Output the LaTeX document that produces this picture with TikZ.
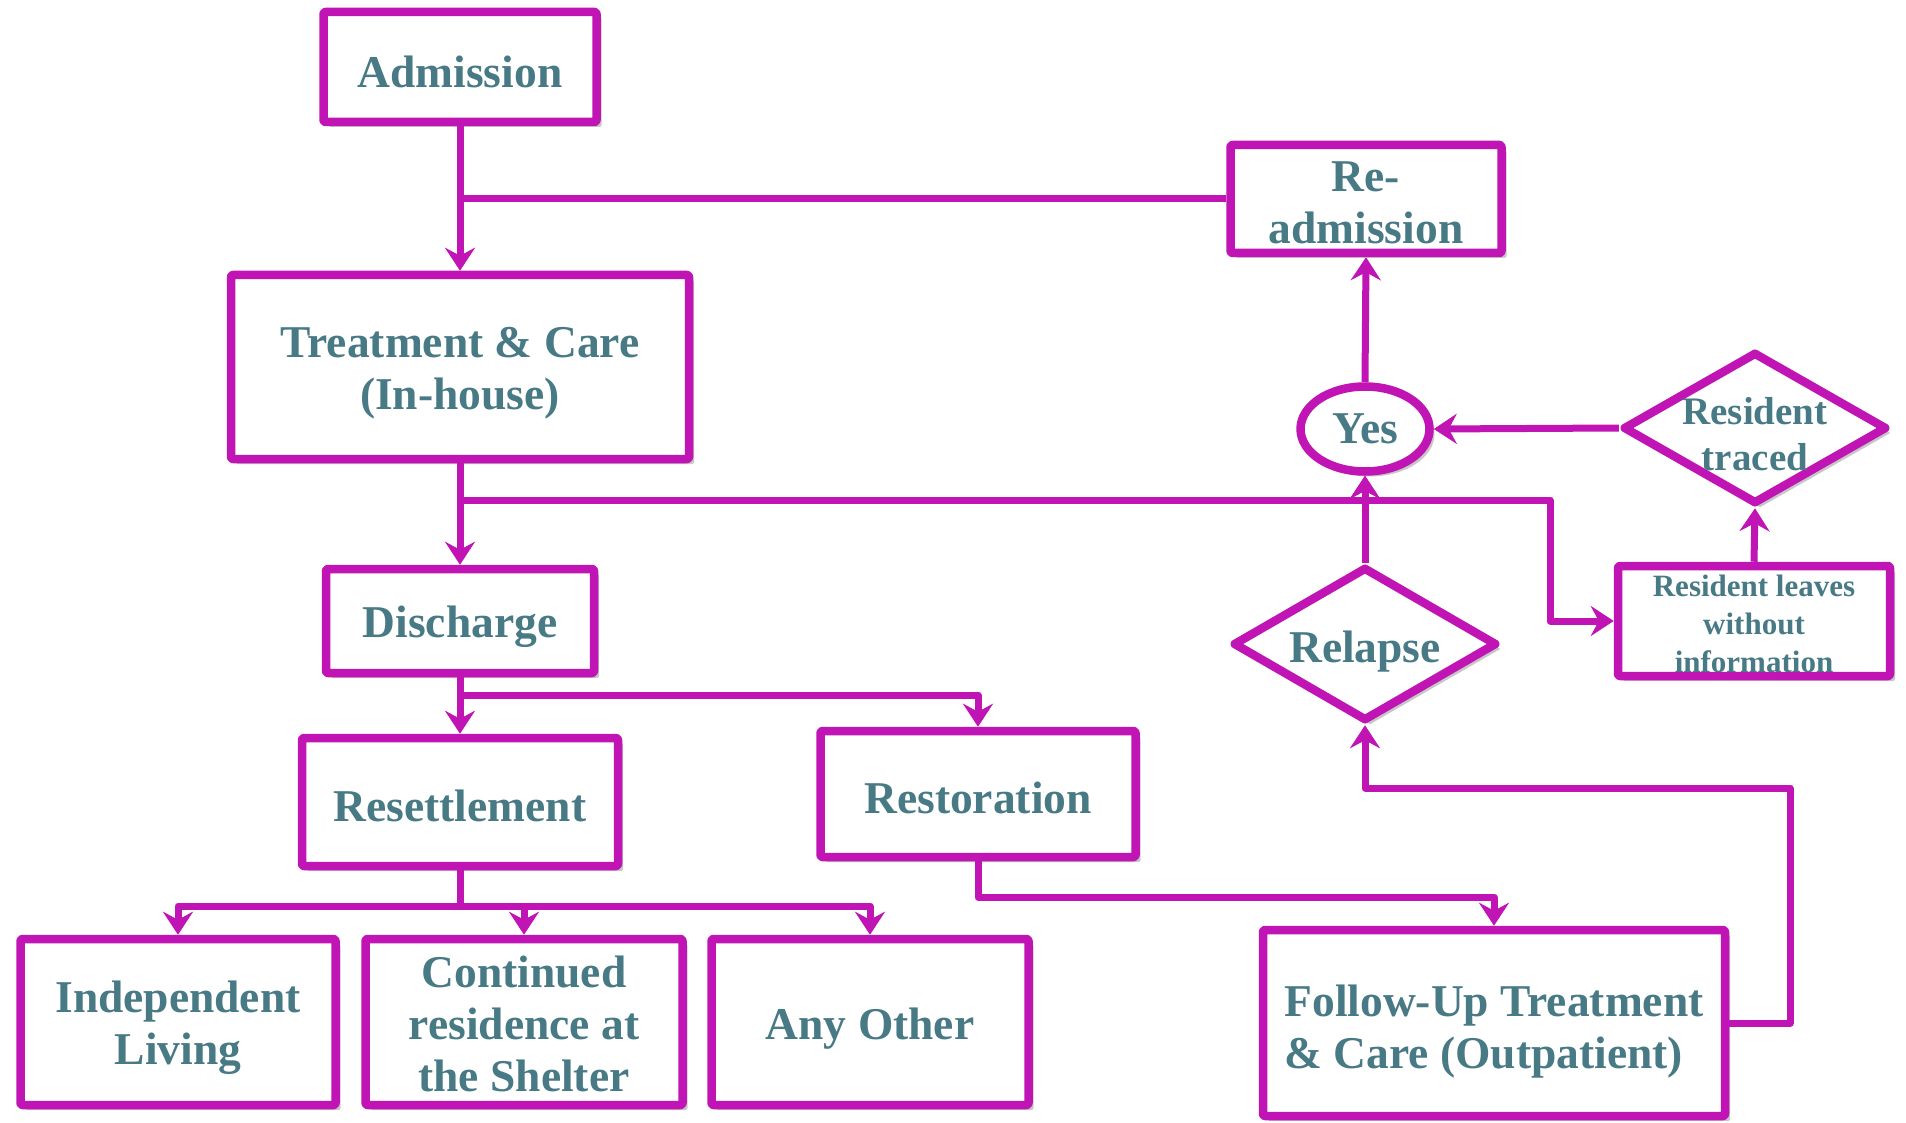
\documentclass[tikz,border=0pt]{standalone}
\usepackage{fontspec}
\setmainfont{Liberation Serif}
\usetikzlibrary{shapes.geometric,arrows.meta,shadows}
\definecolor{lineM}{RGB}{192,20,180}
\definecolor{txtT}{RGB}{72,122,134}
\newcommand\tstrut[1]{\rule{0pt}{#1}}
\begin{document}
\begin{tikzpicture}[x=1pt,y=-1pt,
  mainfont/.style={font=\bfseries\fontsize{45.5}{52}\selectfont},
  base/.style={draw=lineM, line width=8.5pt, fill=white, text=txtT, mainfont, align=center,
    inner sep=0pt, line join=round,
    drop shadow={shadow xshift=5pt, shadow yshift=-5pt, fill=black!22, opacity=1}},
  box/.style={base, rectangle, rounded corners=2pt},
  ovalbox/.style={base, ellipse},
  dia/.style={base, diamond},
  dtext/.style={text=txtT, align=center, inner sep=0pt},
  conn/.style={draw=lineM, line width=7pt, line join=round},
  arr/.style={conn, -{Stealth[length=23pt,width=30pt,inset=8pt]}},
]
\path[use as bounding box] (0,0) rectangle (1906,1123);

% nodes
\node[box, minimum width=273pt, minimum height=110pt] (adm) at (460,67) {\tstrut{41pt}Admission};
\node[box, minimum width=458pt, minimum height=184pt] (treat) at (460,367) {\tstrut{43pt}Treatment \& Care\\(In-house)};
\node[box, minimum width=268pt, minimum height=104pt] (dis) at (460,621) {\tstrut{44pt}Discharge};
\node[box, minimum width=316pt, minimum height=128pt] (reset) at (460,802) {\tstrut{40pt}Resettlement};
\node[box, minimum width=315pt, minimum height=126pt] (resto) at (978,794) {\tstrut{40pt}Restoration};
\node[box, minimum width=315pt, minimum height=166pt] (indep) at (178,1022) {\tstrut{43pt}Independent\\Living};
\node[box, minimum width=317pt, minimum height=166pt] (cont) at (524,1022) {\tstrut{35pt}Continued\\residence at\\the Shelter};
\node[box, minimum width=317pt, minimum height=166pt] (other) at (870,1022) {\tstrut{44pt}Any Other};
\node[box, minimum width=462pt, minimum height=186pt, align=left] (follow) at (1494,1023) {\tstrut{48pt}Follow-Up Treatment\\\& Care (Outpatient)};
\node[box, minimum width=271pt, minimum height=108pt] (readm) at (1366,199) {\tstrut{38pt}Re-\\admission};
\node[ovalbox, minimum width=129pt, minimum height=85pt] (yes) at (1365,429) {Yes};
\node[dia, minimum width=264pt, minimum height=152pt,
  label={[dtext, yshift=-6pt, font=\bfseries\fontsize{39}{46}\selectfont]center:Resident\\traced}] (traced) at (1755,428) {};
\node[dia, minimum width=264pt, minimum height=154pt,
  label={[dtext, yshift=-8pt, mainfont]center:Relapse}] (relapse) at (1365,644) {};
\node[box, minimum width=272pt, minimum height=110pt, font=\bfseries\fontsize{31}{38}\selectfont] (leaves) at (1754,621) {\tstrut{28pt}Resident leaves\\without\\information};

% junctions
\coordinate (j1) at (460,200);
\coordinate (j2) at (460,500);
\coordinate (j3) at (1365,500);
\coordinate (j4) at (460,695);
\coordinate (j5) at (460,906);

% connectors
\draw[conn] (adm.south) -- (j1);
\draw[conn] (readm.west) -- (readm.west -| j1);
\draw[arr] (j1) -- (treat.north);
\draw[arr] (treat.south) -- (dis.north);
\draw[arr] (j2) -| (yes.south);
\draw[arr] (j3) -- (1550,500) |- (leaves.west);
\draw[arr] (relapse.north) -- (yes.south);
\draw[arr] (yes.north) -- (readm.south);
\draw[arr] (traced.west) -- (yes.east);
\draw[arr] (leaves.north) -- (traced.south);
\draw[arr] (dis.south) -- (reset.north);
\draw[arr] (j4) -| (resto.north);
\draw[conn] (reset.south) -- (j5);
\draw[arr] (j5) -| (indep.north);
\draw[arr] (j5) -| (cont.north);
\draw[arr] (j5) -| (other.north);
\draw[arr] (resto.south) -- ++(0,36) -| (follow.north);
\draw[arr] (follow.east) -| (1790,788) -| (relapse.south);
\end{tikzpicture}
\end{document}
